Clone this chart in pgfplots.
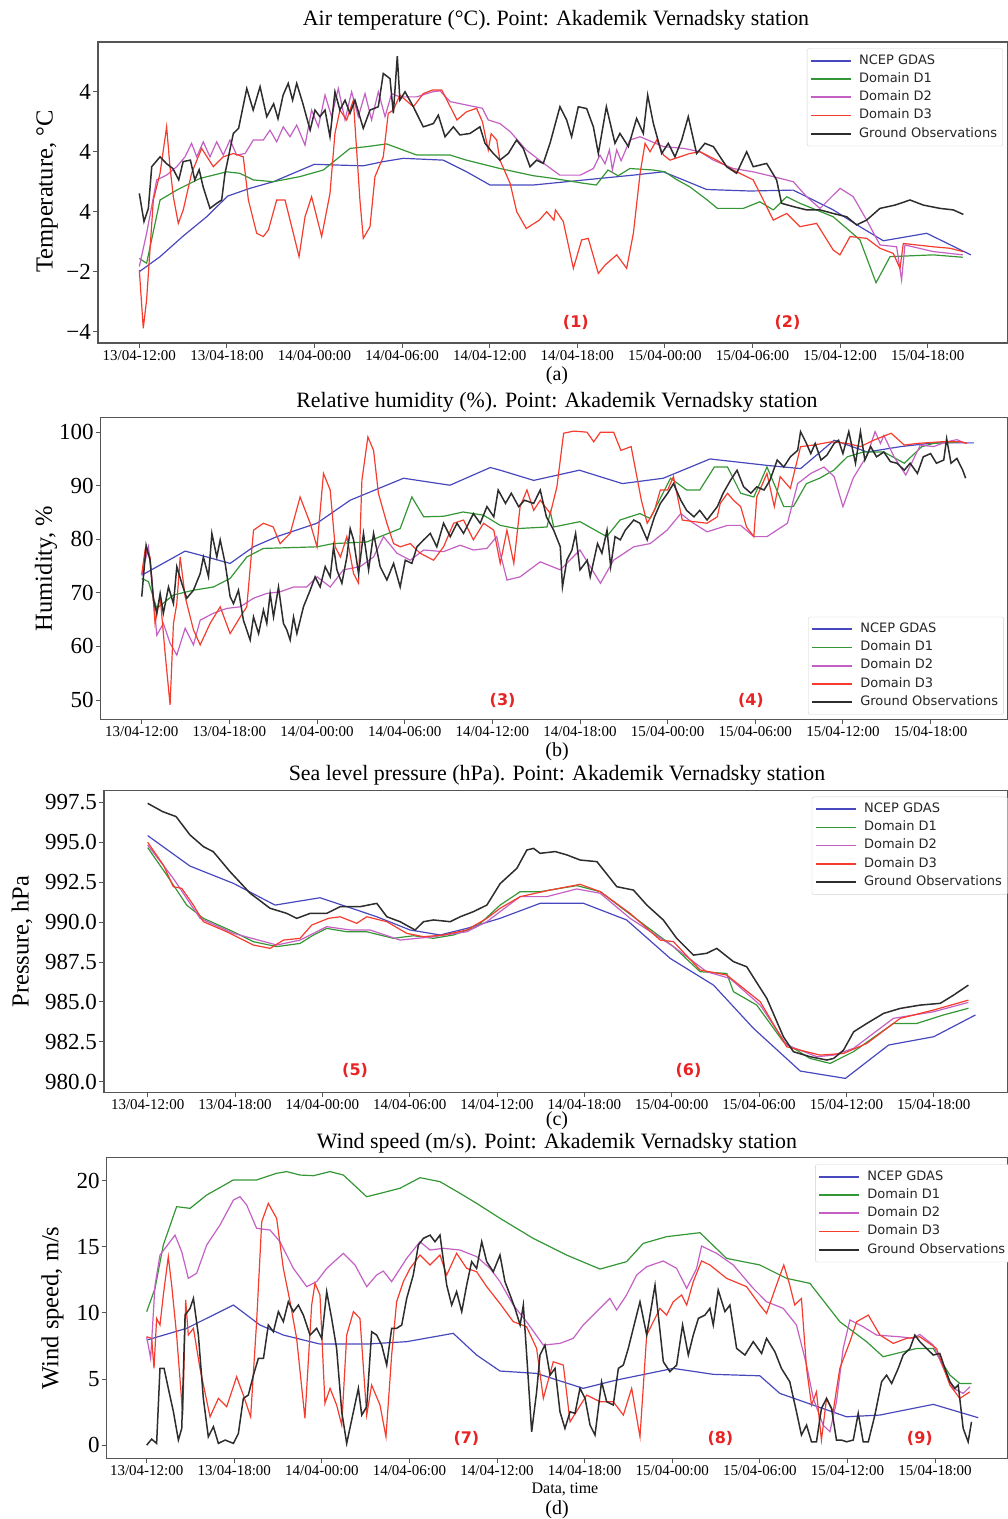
\documentclass[border=0pt]{standalone}
\usepackage{fontspec}
\setmainfont{Liberation Serif}
\newfontfamily\legfont{DejaVu Sans}
\usepackage{pgfplots}
\pgfplotsset{compat=1.18}

\definecolor{cNCEP}{RGB}{72,72,190}
\definecolor{cDone}{RGB}{52,150,52}
\definecolor{cDtwo}{RGB}{196,96,196}
\definecolor{cDthree}{RGB}{245,60,45}
\definecolor{cObs}{RGB}{45,45,45}
\definecolor{cFrame}{RGB}{85,85,85}
\definecolor{cAnn}{RGB}{232,35,35}

\pgfplotsset{
  panel/.style={
    scale only axis,
    anchor=south west,
    axis line style={draw=cFrame, line width=1.3bp},
    tick style={draw=cFrame, line width=0.9bp},
    tick align=outside,
    tick pos=left,
    major tick length=5bp,
    xtick={0,6,...,54},
    xticklabels={13/04-12:00,13/04-18:00,14/04-00:00,14/04-06:00,14/04-12:00,14/04-18:00,15/04-00:00,15/04-06:00,15/04-12:00,15/04-18:00},
    x tick label style={font=\fontsize{15bp}{15bp}\selectfont, inner sep=2bp},
    y tick label style={font=\fontsize{23bp}{23bp}\selectfont, inner sep=2bp},
    legend cell align=left,
    legend image code/.code={\draw[##1, line width=1.6bp] (0bp,0bp) -- (40bp,0bp); \path (45bp,0bp);},
    legend style={font=\legfont\fontsize{13bp}{13bp}\selectfont,
      text=black!85,
      draw=black!18, fill=white, rounded corners=2bp,
      inner xsep=3bp, inner ysep=3.5bp, row sep=0.75bp,
      nodes={inner sep=2.5bp, text height=9.5bp, text depth=3bp},
      anchor=north west},
  },
  ncep/.style={cNCEP, line width=1.2bp},
  done/.style={cDone, line width=1.2bp},
  dtwo/.style={cDtwo, line width=1.2bp},
  dthree/.style={cDthree, line width=1.2bp},
  obs/.style={cObs, line width=1.5bp},
}
\tikzset{
  ttl/.style={font=\fontsize{21.9bp}{21.9bp}\selectfont, inner sep=0pt},
  ylab/.style={font=\fontsize{24.5bp}{24.5bp}\selectfont, rotate=90, inner sep=0pt},
  sub/.style={font=\fontsize{20bp}{20bp}\selectfont, inner sep=0pt},
  ann/.style={font=\legfont\bfseries\fontsize{16bp}{16bp}\selectfont, text=cAnn, inner sep=0pt},
}

\begin{document}
\begin{tikzpicture}
\useasboundingbox (0bp,0bp) rectangle (1008bp,-1519bp);

% ---------------- (a) air temperature ----------------
\node[ttl] at (556bp,-20bp) {Air temperature (°C). Point: Akademik Vernadsky station};
\node[ylab] at (47bp,-191.5bp) {Temperature, °C};
\begin{axis}[panel, at={(98bp,-343bp)}, width=910bp, height=301bp,
  xmin=-2.83, xmax=59.5, ymin=-4.38, ymax=5.66,
  ytick={-4,-2,0,2,4}, yticklabels={−4,−2,4,4,4},
  legend style={at={(0.779,0.979)}}]
\addplot[ncep] coordinates {(0,-2.0)(1.42,-1.5)(3.01,-0.81)(4.61,-0.17)(6.05,0.52)(7.58,0.78)(9.18,1.0)(10.78,1.33)(11.99,1.58)(13.29,1.56)(15.34,1.53)(16.71,1.67)(18.08,1.78)(20.82,1.72)(22.42,1.33)(24.02,0.89)(26.99,0.89)(29.27,1.0)(31.55,1.11)(33.84,1.22)(35.89,1.33)(37.26,1.06)(38.86,0.74)(41.83,0.69)(44.79,0.72)(47.53,0.06)(49.36,-0.5)(50.96,-0.97)(53.93,-0.72)(56.95,-1.44)};
\addlegendentry{NCEP GDAS}
\addplot[done] coordinates {(0,-1.56)(0.5,-1.72)(1.42,0.39)(2.56,0.72)(4.16,1.11)(5.98,1.33)(6.89,1.28)(7.81,1.06)(9.18,1.0)(11.0,1.17)(12.6,1.39)(14.43,2.11)(15.57,2.17)(16.94,2.26)(19.0,1.89)(21.28,1.89)(22.4,1.72)(24.7,1.44)(26.99,1.2)(28.36,1.11)(30.4,0.95)(31.3,0.89)(32.1,1.39)(32.8,1.2)(33.6,1.44)(35.2,1.39)(36.0,1.33)(36.7,1.1)(37.7,0.83)(38.9,0.39)(39.6,0.11)(41.37,0.11)(42.5,0.33)(43.42,0.06)(44.34,0.5)(45.25,0.28)(47.53,-0.17)(49.36,-0.94)(50.46,-2.37)(51.42,-1.5)(54.38,-1.44)(56.4,-1.52)};
\addlegendentry{Domain D1}
\addplot[dtwo] coordinates {(0,-1.83)(0.5,-0.72)(1.19,1.06)(1.87,1.22)(2.56,1.5)(3.13,1.83)(3.58,2.28)(3.93,1.83)(4.38,2.33)(4.84,1.83)(5.3,2.33)(5.75,1.89)(6.21,2.39)(6.67,1.89)(7.24,1.94)(7.81,2.39)(8.49,2.39)(8.95,2.72)(9.41,2.33)(9.86,2.83)(10.32,2.5)(10.78,2.89)(11.35,2.22)(11.8,3.39)(12.26,2.83)(12.72,3.89)(13.17,3.17)(13.63,4.11)(14.09,3.06)(14.54,4.0)(15.0,3.17)(15.46,3.94)(15.91,3.06)(16.37,4.0)(16.83,3.17)(17.28,3.94)(17.85,3.83)(19.0,3.83)(20.1,4.0)(20.6,4.03)(21.3,3.67)(23.5,3.45)(23.9,3.06)(24.7,2.94)(25.4,2.67)(26.5,2.06)(27.7,1.61)(28.8,1.22)(30.2,1.22)(31.1,1.44)(31.55,1.89)(31.9,1.6)(32.2,2.06)(32.4,1.39)(32.7,2.06)(33.0,1.7)(33.6,2.39)(34.3,2.5)(35.9,2.17)(37.3,2.11)(38.4,2.0)(39.32,1.72)(40.68,1.44)(42.05,1.33)(43.42,1.17)(44.79,1.0)(45.71,0.5)(46.62,0.11)(48.0,0.78)(48.9,0.5)(49.82,-0.28)(50.73,-1.11)(51.87,-1.17)(52.21,-2.28)(52.44,-1.11)(54.38,-1.33)(56.4,-1.44)};
\addlegendentry{Domain D2}
\addplot[dthree] coordinates {(0,-1.94)(0.27,-3.89)(0.5,-2.94)(0.96,0.39)(1.42,1.28)(1.87,2.83)(2.1,1.5)(2.33,0.5)(2.67,-0.39)(3.01,0.06)(3.58,1.28)(4.27,2.11)(5.07,1.5)(5.75,1.83)(6.44,1.94)(7.12,1.83)(7.47,0.39)(8.04,-0.72)(8.49,-0.83)(8.84,-0.61)(9.41,0.39)(9.98,0.39)(10.55,-0.72)(10.94,-1.5)(11.35,-0.17)(11.8,0.5)(12.49,-0.83)(13.06,0.61)(13.4,2.61)(13.74,3.39)(14.2,3.06)(14.66,3.72)(15.11,0.39)(15.34,-0.89)(15.8,-0.5)(16.14,1.17)(16.71,1.83)(17.05,3.28)(17.4,3.39)(17.85,3.89)(18.77,3.5)(19.45,3.94)(20.1,4.06)(20.71,4.06)(21.3,3.5)(21.76,3.06)(22.4,3.33)(23.1,3.45)(23.5,3.0)(23.9,2.06)(24.1,2.6)(24.48,2.39)(24.7,1.72)(25.4,0.94)(25.85,0)(26.5,-0.56)(27.4,-0.28)(27.9,0)(28.4,-0.28)(28.5,0.06)(29.04,-0.33)(29.73,-1.89)(30.3,-0.94)(30.75,-0.89)(31.44,-2.06)(31.9,-1.78)(32.7,-1.44)(33.38,-1.89)(33.84,-0.72)(34.3,1.28)(34.64,2.28)(34.98,2.0)(35.44,2.39)(35.9,1.89)(36.35,1.72)(37.7,1.94)(38.4,2.0)(39.54,1.72)(40.68,1.39)(42.05,1.06)(42.74,0.39)(43.42,-0.28)(44.34,-0.06)(45.25,-0.5)(46.39,-0.39)(47.53,-1.28)(47.99,-1.44)(48.68,-0.83)(49.82,-0.89)(50.73,-1.22)(51.64,-1.39)(52.1,-1.89)(52.33,-1.06)(54.38,-1.17)(55.53,-1.22)(56.4,-1.33)};
\addlegendentry{Domain D3}
\addplot[obs] coordinates {(0,0.61)(0.32,-0.33)(0.62,0.11)(0.85,1.5)(1.42,1.83)(1.87,1.6)(2.3,1.44)(2.7,1.06)(3.0,1.67)(3.5,1.72)(3.8,1.06)(4.1,1.4)(4.37,0.83)(4.84,0.11)(5.3,0.28)(5.64,0.39)(5.87,1.28)(6.44,2.61)(6.8,2.78)(7.36,4.11)(7.8,3.39)(8.27,4.17)(8.73,3.17)(9.2,3.6)(9.5,3.1)(9.85,3.89)(10.2,4.28)(10.5,3.72)(10.78,4.28)(11.2,3.61)(11.7,2.72)(12.03,3.39)(12.37,3.17)(12.72,3.39)(13.06,2.5)(13.4,4.0)(13.74,3.39)(14.09,3.72)(14.43,3.28)(14.77,3.72)(15.34,2.78)(15.8,3.39)(16.37,3.5)(16.71,4.61)(17.17,4.44)(17.4,3.28)(17.67,5.19)(17.85,3.72)(18.2,4.0)(18.77,3.5)(19.45,2.83)(20.14,2.94)(20.48,3.22)(20.94,2.5)(21.51,2.83)(21.96,2.56)(22.65,2.61)(23.33,2.83)(23.68,2.28)(24.25,1.94)(24.7,1.72)(25.27,1.94)(25.84,2.39)(26.3,2.11)(26.76,1.5)(27.21,1.72)(27.67,1.61)(28.13,2.28)(28.81,3.5)(29.27,3.06)(29.61,2.5)(30.07,3.5)(30.64,3.44)(31.1,2.83)(31.44,1.94)(31.99,3.5)(32.58,2.28)(32.92,2.61)(33.5,2.17)(34.06,3.11)(34.52,2.61)(34.82,3.89)(35.21,2.94)(35.78,1.94)(36.23,2.28)(36.69,1.83)(37.15,2.39)(37.6,3.17)(38.17,1.94)(38.74,2.28)(39.32,2.17)(40.23,1.5)(40.91,1.28)(41.6,2.0)(42.05,1.5)(42.97,1.61)(43.65,1.06)(43.99,0.28)(44.79,0.17)(45.71,0.06)(46.62,0.06)(47.53,-0.06)(48.45,-0.17)(49.13,-0.44)(49.82,-0.28)(50.73,0.11)(51.76,0.22)(52.79,0.39)(53.7,0.22)(54.84,0.11)(55.75,0.06)(56.44,-0.09)};
\addlegendentry{Ground Observations}
\node[ann] at (axis cs:29.9,-3.68) {(1)};
\node[ann] at (axis cs:44.4,-3.68) {(2)};
\end{axis}
\node[sub] at (557bp,-376bp) {(a)};

% ---------------- (b) relative humidity ----------------
\node[ttl] at (557bp,-402bp) {Relative humidity (\%). Point: Akademik Vernadsky station};
\node[ylab] at (46bp,-568.5bp) {Humidity, \%};
\begin{axis}[panel, at={(100.7bp,-719.3bp)}, width=907.3bp, height=301.6bp,
  xmin=-2.81, xmax=59.3, ymin=46.4, ymax=102.7,
  ytick={50,60,70,80,90,100}, yticklabels={50,60,70,80,90,100},
  legend style={at={(0.7796,0.340)}}]
\addplot[ncep] coordinates {(0,73.3)(2.97,77.8)(4.0,77.05)(6.05,75.5)(7.65,78.6)(9.25,80.5)(11.99,83.0)(14.27,87.3)(17.92,91.4)(21.1,90.1)(23.86,93.4)(24.54,92.9)(26.83,91.0)(29.96,92.9)(32.9,90.4)(35.7,91.4)(38.9,95.0)(42.8,93.8)(45.1,93.2)(47.4,98.5)(49.66,96.3)(51.94,97.3)(54.2,98.0)(56.96,98.0)};
\addlegendentry{NCEP GDAS}
\addplot[done] coordinates {(0,72.7)(0.46,72.1)(1.03,67.1)(2.17,69.6)(3.54,70.5)(4.91,71.1)(6.05,72.7)(7.19,76.7)(8.33,78.3)(10.84,78.5)(12.0,78.6)(13.1,79.2)(15.4,79.5)(17.69,82.0)(18.49,87.9)(19.3,84.2)(20.66,84.3)(22.0,85.1)(23.4,84.5)(24.54,82.6)(25.68,82.0)(27.74,82.3)(27.97,85.1)(28.2,82.3)(30.0,83.3)(31.83,80.5)(32.74,83.6)(34.1,84.8)(34.8,83.9)(36.2,91.4)(37.3,89.2)(38.2,89.2)(39.2,93.5)(40.1,93.5)(41.0,88.6)(41.9,87.9)(42.8,93.5)(43.95,86.1)(44.6,86.1)(45.5,90.4)(46.4,91.4)(47.37,92.9)(48.3,95.4)(49.4,96.3)(50.8,96.3)(52.2,94.2)(53.4,97.3)(54.2,97.9)(56.0,98.2)};
\addlegendentry{Domain D1}
\addplot[dtwo] coordinates {(0,73.3)(0.46,78.6)(0.68,73.0)(1.03,62.1)(1.48,64.3)(1.94,60.6)(2.4,58.4)(2.97,63.4)(3.54,60.3)(4.0,64.9)(4.9,66.2)(5.82,67.1)(6.74,67.4)(7.65,69.0)(8.56,69.9)(9.47,70.2)(10.4,71.1)(11.3,71.1)(12.0,73.0)(12.9,71.1)(13.8,74.3)(14.95,74.9)(15.87,76.7)(16.55,80.5)(17.47,77.4)(18.38,76.1)(19.3,78.0)(20.66,77.7)(21.8,78.9)(22.7,78.0)(23.63,78.3)(24.3,80.5)(24.54,77.4)(25.0,72.4)(25.9,73.0)(27.28,75.8)(28.65,74.3)(30.0,78.0)(31.4,71.8)(32.3,76.1)(33.68,78.6)(34.8,79.2)(35.96,81.7)(36.9,84.8)(37.6,83.3)(38.7,81.4)(40.1,82.6)(41.0,82.6)(41.9,80.5)(42.8,80.5)(44.2,83.0)(44.9,90.4)(45.8,92.3)(46.7,93.5)(47.4,91.7)(48.0,86.1)(48.7,91.4)(49.66,95.7)(50.2,100.1)(50.57,97.9)(50.8,99.4)(51.5,95.4)(52.3,92.0)(53.3,97.6)(54.2,97.3)(55.1,98.2)(55.8,98.6)(56.4,97.9)};
\addlegendentry{Domain D2}
\addplot[dthree] coordinates {(0,73.6)(0.23,78.0)(0.57,76.7)(0.91,64.3)(1.26,69.3)(1.6,58.7)(1.94,49.1)(2.17,64.3)(2.4,68.0)(2.63,76.7)(2.97,69.3)(3.54,63.1)(4.0,60.3)(4.68,64.3)(5.37,67.4)(6.05,62.4)(6.74,65.5)(7.19,67.4)(7.65,81.7)(8.33,83.0)(9.0,82.3)(9.47,79.2)(10.16,81.1)(10.84,87.9)(11.53,83.0)(12.0,78.6)(12.44,92.3)(12.9,89.2)(13.24,78.6)(13.6,76.7)(14.04,80.5)(14.5,73.6)(14.84,71.8)(15.07,91.0)(15.48,99.1)(15.87,96.6)(16.2,88.6)(16.78,83.0)(17.24,79.2)(17.69,78.6)(18.38,79.2)(19.06,77.4)(19.98,76.1)(20.66,78.6)(21.35,83.0)(22.03,83.6)(22.7,79.9)(23.4,83.0)(24.1,81.7)(24.54,75.5)(25.0,81.7)(25.47,75.5)(25.9,86.1)(26.37,89.2)(26.83,85.4)(27.28,87.3)(27.97,84.8)(28.42,89.8)(28.88,99.8)(29.57,100.2)(30.48,100.0)(30.94,98.2)(31.4,100.0)(32.3,100.0)(32.8,96.6)(33.5,97.3)(34.2,87.3)(34.6,83.0)(35.1,85.4)(35.5,89.2)(36.0,89.2)(36.4,91.7)(37.0,83.6)(37.8,83.3)(38.7,83.0)(39.4,84.2)(39.6,86.7)(40.1,88.6)(40.5,87.3)(41.0,86.1)(41.4,82.3)(41.9,80.5)(42.1,87.9)(42.8,92.3)(43.3,86.1)(43.7,91.7)(44.4,89.5)(45.1,97.3)(46.0,97.6)(47.2,98.2)(48.3,97.9)(49.2,97.3)(50.1,98.5)(51.3,99.8)(52.2,97.6)(53.1,97.9)(54.7,98.2)(56.1,98.2)(56.5,97.9)};
\addlegendentry{Domain D3}
\addplot[obs] coordinates {(0,69.3)(0.3,78.9)(0.57,76.1)(0.8,68.7)(1.03,66.2)(1.26,69.9)(1.48,66.2)(1.83,71.1)(2.17,68.0)(2.4,74.9)(2.74,71.8)(3.08,69.0)(3.54,70.5)(4.0,73.6)(4.22,76.7)(4.57,73.0)(4.8,81.1)(5.14,76.7)(5.37,79.9)(5.71,75.5)(6.05,69.3)(6.28,68.0)(6.62,70.5)(6.96,64.9)(7.42,61.2)(7.65,65.5)(8.0,62.4)(8.33,66.8)(8.56,64.3)(8.79,69.9)(9.02,65.5)(9.36,71.1)(9.7,64.3)(9.93,63.1)(10.16,61.2)(10.39,65.5)(10.62,62.4)(11.07,67.4)(11.53,70.5)(11.87,73.0)(12.21,71.1)(12.56,74.9)(12.9,73.0)(13.13,78.6)(13.36,74.3)(13.7,71.8)(14.04,76.7)(14.27,82.0)(14.5,79.9)(14.84,73.6)(15.18,81.1)(15.53,74.3)(15.87,81.1)(16.32,74.9)(16.78,72.4)(17.24,75.5)(17.69,71.1)(18.04,76.1)(18.49,75.5)(18.84,78.6)(19.3,79.9)(19.75,81.1)(20.2,78.6)(20.66,83.0)(21.12,80.5)(21.58,83.0)(22.03,81.1)(22.7,84.8)(23.17,83.0)(23.63,86.1)(24.1,84.2)(24.4,89.2)(24.9,86.7)(25.3,88.6)(25.8,86.1)(26.2,87.3)(26.83,86.7)(27.28,89.2)(27.7,84.2)(28.2,81.7)(28.65,78.6)(28.8,71.1)(29.1,76.1)(29.45,78.0)(29.7,81.1)(30.0,74.3)(30.5,76.1)(30.7,73.0)(31.2,79.2)(31.5,77.4)(31.85,81.7)(32.1,74.9)(32.4,80.5)(32.76,79.9)(33.1,81.7)(33.68,83.6)(34.1,83.0)(34.6,79.9)(35.1,84.2)(35.5,86.7)(36.0,88.6)(36.4,90.4)(36.9,87.3)(37.3,85.4)(37.8,84.2)(38.2,85.4)(38.7,83.6)(39.4,86.1)(39.8,88.6)(40.3,91.0)(40.75,92.9)(41.2,89.8)(41.7,88.6)(42.1,89.8)(42.6,89.2)(43.0,91.0)(43.5,94.8)(43.95,93.5)(44.4,95.4)(44.9,96.6)(45.1,100.1)(45.5,97.9)(45.8,96.0)(46.1,97.9)(46.5,94.8)(46.9,95.7)(47.4,97.9)(47.7,98.5)(48.0,96.0)(48.4,100.1)(48.86,94.2)(49.2,100.1)(49.5,94.8)(49.9,97.3)(50.3,95.4)(50.8,96.3)(51.25,94.5)(51.7,94.2)(52.2,92.9)(52.6,94.2)(53.1,92.3)(53.5,95.4)(54.0,96.0)(54.4,94.2)(54.9,94.8)(55.1,98.8)(55.4,94.2)(55.8,95.1)(56.2,92.9)(56.4,91.4)};
\addlegendentry{Ground Observations}
\node[ann] at (axis cs:24.7,50.0) {(3)};
\node[ann] at (axis cs:41.7,50.0) {(4)};
\end{axis}
\node[sub] at (557bp,-752bp) {(b)};

% ---------------- (c) sea level pressure ----------------
\node[ttl] at (557bp,-775bp) {Sea level pressure (hPa). Point: Akademik Vernadsky station};
\node[ylab] at (22bp,-941.5bp) {Pressure, hPa};
\begin{axis}[panel, at={(104bp,-1092.3bp)}, width=904bp, height=301.6bp,
  xmin=-3.0, xmax=59.1, ymin=979.34, ymax=998.22,
  ytick={980,982.5,985,987.5,990,992.5,995,997.5},
  yticklabels={980.0,982.5,985.0,987.5,990.0,992.5,995.0,997.5},
  legend style={at={(0.783,0.980)}}]
\addplot[ncep] coordinates {(0,995.41)(2.91,993.5)(5.89,992.42)(8.75,991.06)(11.84,991.52)(13.68,990.96)(15.74,990.33)(18.03,989.5)(20.09,989.19)(21.92,989.6)(24.21,990.23)(26.96,991.17)(29.94,991.17)(32.9,990.13)(35.9,987.72)(38.87,986.05)(41.62,983.34)(44.83,980.67)(47.93,980.21)(50.9,982.3)(54.0,982.82)(56.86,984.18)};
\addlegendentry{NCEP GDAS}
\addplot[done] coordinates {(0,994.66)(1.31,992.94)(2.68,991.06)(3.83,990.23)(5.89,989.39)(7.26,988.77)(8.87,988.46)(10.47,988.66)(11.39,989.19)(12.3,989.6)(13.68,989.39)(15.05,989.39)(16.88,988.98)(18.26,989.14)(19.63,988.98)(21.01,989.19)(22.61,989.71)(24.21,991.06)(25.59,991.9)(26.96,991.9)(29.48,992.28)(31.09,991.9)(32.9,990.65)(34.75,989.39)(36.12,988.46)(37.95,986.89)(39.78,986.78)(40.24,985.64)(41.84,984.8)(43.67,982.5)(45.5,981.46)(46.88,981.15)(48.48,981.88)(51.23,983.65)(52.83,983.65)(54.66,984.18)(56.38,984.6)};
\addlegendentry{Domain D1}
\addplot[dtwo] coordinates {(0,994.82)(1.76,992.73)(3.6,990.23)(5.89,989.29)(8.87,988.56)(10.47,988.87)(12.3,989.71)(13.91,989.5)(15.28,989.5)(17.34,988.87)(19.63,989.08)(21.92,989.39)(23.3,990.02)(24.21,990.65)(25.59,991.59)(27.42,991.59)(29.48,992.07)(31.09,991.8)(33.14,990.23)(36.12,988.46)(38.4,986.89)(40.0,986.47)(42.08,984.8)(43.9,982.3)(45.98,981.57)(47.12,981.67)(48.48,982.09)(51.23,983.97)(53.98,984.38)(56.38,984.97)};
\addlegendentry{Domain D2}
\addplot[dthree] coordinates {(0,994.99)(1.08,993.57)(1.76,992.21)(2.34,992.11)(3.14,991.06)(3.83,990.02)(5.43,989.39)(7.26,988.56)(8.41,988.35)(9.33,988.87)(10.47,988.98)(11.27,989.81)(12.42,990.23)(13.22,990.33)(14.36,989.92)(15.05,990.33)(16.43,990.02)(17.8,989.29)(18.95,989.08)(20.32,989.19)(21.92,989.5)(23.3,990.23)(24.21,990.86)(25.59,991.59)(27.65,992.0)(29.71,992.36)(31.09,991.9)(33.14,990.54)(35.21,988.87)(36.12,988.77)(37.95,987.0)(39.78,986.68)(42.08,985.01)(43.9,982.19)(46.19,981.67)(47.79,981.77)(49.4,982.4)(51.69,983.97)(53.98,984.49)(56.38,985.11)};
\addlegendentry{Domain D3}
\addplot[obs] coordinates {(0,997.43)(1.03,996.91)(1.95,996.6)(2.91,995.45)(3.83,994.72)(4.51,994.4)(5.66,993.15)(7.04,991.8)(8.41,990.86)(9.56,990.54)(10.24,990.23)(11.16,990.54)(12.3,990.54)(13.22,990.96)(14.59,990.96)(15.74,991.17)(16.43,990.33)(17.34,990.02)(18.37,989.5)(18.95,990.02)(19.63,990.13)(20.78,990.02)(21.47,990.33)(22.38,990.65)(23.3,991.06)(24.21,992.4)(25.36,993.36)(26.05,994.51)(26.51,994.61)(26.96,994.3)(28.0,994.41)(28.8,994.2)(29.71,993.88)(30.86,993.78)(32.23,992.21)(33.37,992.0)(34.29,991.06)(35.42,990.13)(36.34,988.98)(37.49,987.93)(38.4,988.04)(39.09,988.35)(40.24,987.52)(41.15,987.2)(42.53,985.22)(43.67,982.82)(44.36,981.88)(45.5,981.57)(46.66,981.36)(47.12,981.46)(47.8,981.98)(48.5,983.13)(49.4,983.65)(50.55,984.28)(51.69,984.59)(53.07,984.8)(54.45,984.91)(55.37,985.43)(56.38,986.05)};
\addlegendentry{Ground Observations}
\node[ann] at (axis cs:14.25,980.73) {(5)};
\node[ann] at (axis cs:37.15,980.73) {(6)};
\end{axis}
\node[sub] at (557bp,-1121bp) {(c)};

% ---------------- (d) wind speed ----------------
\node[ttl] at (557bp,-1143bp) {Wind speed (m/s). Point: Akademik Vernadsky station};
\node[ylab] at (52.5bp,-1308bp) {Wind speed, m/s};
\begin{axis}[panel, at={(106.7bp,-1458.3bp)}, width=901.3bp, height=300.6bp,
  xmin=-2.74, xmax=59.0, ymin=-1.0, ymax=21.73,
  ytick={0,5,10,15,20}, yticklabels={0,5,10,15,20},
  legend style={at={(0.786,0.978)}}]
\addplot[ncep] coordinates {(0,7.94)(2.74,8.83)(5.94,10.59)(7.76,9.08)(9.36,8.32)(11.87,7.64)(15.07,7.64)(17.81,7.82)(21.0,8.45)(22.6,6.81)(24.2,5.6)(26.71,5.42)(29.9,4.29)(32.19,4.92)(36.07,5.8)(38.81,5.35)(42.0,5.24)(43.37,3.91)(47.94,2.14)(50.22,2.27)(53.88,3.08)(56.96,2.07)};
\addlegendentry{NCEP GDAS}
\addplot[done] coordinates {(0,10.09)(0.57,11.85)(1.14,15.13)(2.05,18.03)(2.97,17.9)(4.11,18.91)(5.94,20.05)(7.53,20.05)(8.9,20.55)(9.59,20.68)(10.5,20.42)(11.42,20.37)(12.56,20.68)(13.47,20.42)(15.07,18.78)(16.44,19.16)(17.35,19.42)(18.72,20.22)(20.09,19.92)(21.46,19.04)(22.6,18.28)(24.2,17.15)(26.48,15.63)(28.76,14.37)(31.05,13.31)(32.87,13.87)(34.01,15.25)(35.61,15.76)(37.9,16.06)(39.72,14.12)(42.0,13.62)(43.83,12.61)(45.43,12.23)(47.48,9.33)(49.31,7.82)(50.45,6.68)(52.74,7.31)(53.88,7.31)(55.02,5.29)(55.7,4.66)(56.5,4.66)};
\addlegendentry{Domain D1}
\addplot[dtwo] coordinates {(0,8.19)(0.27,6.56)(0.57,12.1)(0.91,14.37)(1.6,15.38)(1.94,15.88)(2.4,14.62)(2.85,12.61)(3.42,12.99)(4.11,15.13)(5.02,16.64)(5.94,18.53)(6.39,18.78)(6.85,18.15)(7.53,16.39)(8.45,16.26)(9.13,15.38)(10.05,13.36)(10.96,11.98)(11.64,12.36)(12.33,13.36)(13.47,14.5)(14.27,13.62)(15.07,11.98)(15.75,12.86)(16.21,13.16)(16.78,12.36)(17.81,14.12)(18.72,15.38)(19.41,14.75)(20.32,14.88)(21.46,14.75)(22.6,14.25)(23.52,13.36)(24.2,12.36)(25.11,10.59)(26.02,9.33)(27.17,7.56)(28.31,7.69)(29.22,8.07)(29.9,9.08)(31.05,10.34)(31.73,11.09)(32.19,10.21)(32.87,11.35)(33.56,12.86)(34.25,13.49)(35.39,13.92)(36.3,13.36)(36.99,11.85)(37.67,13.36)(38.01,15.05)(39.04,14.5)(40.18,13.62)(41.55,11.85)(42.46,10.84)(43.6,10.34)(44.51,9.08)(45.2,6.05)(45.66,3.53)(46.34,1.51)(46.8,1.01)(47.25,3.28)(47.71,7.31)(48.17,9.46)(49.08,8.95)(49.99,8.32)(51.59,8.19)(52.51,8.07)(52.96,8.37)(53.88,7.56)(54.79,5.29)(55.25,4.29)(55.93,3.91)(56.39,4.41)};
\addlegendentry{Domain D2}
\addplot[dthree] coordinates {(0,8.19)(0.34,8.07)(0.5,5.8)(0.68,9.58)(0.91,9.08)(1.14,11.35)(1.48,14.25)(1.71,12.1)(2.05,8.32)(2.47,2.27)(2.67,10.97)(2.85,8.32)(3.2,8.83)(3.65,5.8)(4.34,2.14)(4.91,3.53)(5.48,2.9)(6.16,5.17)(6.62,3.78)(7.12,2.14)(7.53,9.33)(7.88,16.89)(8.33,18.28)(8.9,17.15)(9.36,13.36)(9.82,10.84)(10.27,8.07)(10.84,2.02)(11.3,10.59)(11.53,12.23)(11.87,11.35)(12.21,3.15)(12.56,4.29)(13.01,3.03)(13.36,1.51)(13.7,8.32)(14.16,10.09)(14.61,9.58)(15.07,2.27)(15.41,4.54)(15.98,3.03)(16.39,0.63)(16.78,6.81)(17.12,10.84)(17.58,12.36)(18.04,13.36)(18.72,14.37)(19.41,13.62)(20.09,14.37)(20.55,12.86)(21.23,14.5)(21.92,13.36)(22.6,13.11)(23.29,11.98)(24.2,10.7)(25.11,9.33)(26.02,8.95)(26.71,7.31)(27.17,3.53)(27.85,6.3)(28.54,6.05)(29.0,1.76)(30.14,3.78)(31.05,3.28)(31.96,3.28)(32.65,2.27)(33.22,4.29)(33.79,0.63)(34.25,8.32)(35.16,10.34)(35.61,9.83)(36.07,10.84)(36.64,11.35)(36.99,10.59)(37.44,12.36)(38.01,13.92)(38.58,13.62)(39.72,12.61)(41.09,11.98)(42.0,10.59)(42.46,9.96)(43.14,12.1)(43.64,13.62)(44.05,12.1)(44.39,10.59)(44.85,11.09)(45.2,5.8)(45.54,3.03)(45.88,4.03)(46.22,0.38)(46.57,3.53)(47.02,2.52)(47.48,5.8)(48.17,7.82)(48.63,9.33)(49.43,9.83)(50.23,8.32)(51.14,7.69)(52.05,8.07)(52.96,8.19)(54.1,7.31)(55.02,4.54)(55.7,3.53)(56.39,4.03)};
\addlegendentry{Domain D3}
\addplot[obs] coordinates {(0,0)(0.34,0.45)(0.68,0.13)(0.91,5.8)(1.19,5.8)(1.48,4.29)(1.83,2.52)(2.17,0.38)(2.4,1.26)(2.63,9.83)(2.97,10.34)(3.2,11.09)(3.54,8.32)(3.88,3.53)(4.22,0.63)(4.57,1.39)(4.91,0.13)(5.37,0.38)(5.94,0.13)(6.28,0.88)(6.62,3.53)(6.96,3.78)(7.31,5.29)(7.65,6.56)(8.0,6.56)(8.33,9.08)(8.68,8.57)(9.02,10.09)(9.36,9.33)(9.7,10.84)(10.05,10.09)(10.39,10.59)(10.73,9.83)(11.19,8.32)(11.64,8.83)(11.99,8.07)(12.33,11.6)(12.67,9.58)(13.01,7.31)(13.36,2.52)(13.7,0.13)(14.16,2.52)(14.5,4.29)(14.73,2.27)(15.07,2.9)(15.41,8.57)(15.75,8.32)(16.1,7.56)(16.44,6.05)(16.78,8.83)(17.12,8.83)(17.47,9.08)(17.81,11.09)(18.26,12.86)(18.61,15.13)(18.95,15.63)(19.41,15.88)(19.75,15.38)(20.09,15.88)(20.55,12.1)(20.89,10.59)(21.23,11.6)(21.58,10.09)(21.92,12.1)(22.26,13.87)(22.6,13.36)(22.95,15.38)(23.29,13.87)(23.74,13.11)(24.2,14.37)(24.54,12.36)(24.89,11.35)(25.23,10.34)(25.58,9.08)(25.8,10.59)(26.03,6.81)(26.37,1.01)(26.71,4.03)(26.94,6.81)(27.28,7.56)(27.63,5.29)(27.97,5.8)(28.31,2.52)(28.65,1.26)(29.0,2.52)(29.34,2.4)(29.68,4.29)(30.03,3.53)(30.37,1.51)(30.71,0.76)(31.16,4.79)(31.51,3.28)(31.96,3.03)(32.31,5.8)(32.65,6.05)(32.99,7.31)(33.33,8.83)(33.79,10.84)(34.25,8.32)(34.82,12.1)(35.39,6.3)(35.84,5.55)(36.3,6.05)(36.71,9.08)(37.1,6.81)(37.44,8.32)(37.79,9.58)(38.24,9.83)(38.58,10.34)(38.81,9.08)(39.15,11.72)(39.61,10.09)(39.95,10.59)(40.41,7.31)(40.98,6.81)(41.55,7.82)(42.12,6.93)(42.46,8.07)(43.03,7.06)(43.48,5.8)(44.05,4.79)(44.51,2.52)(44.85,0.76)(45.2,1.51)(45.54,0.25)(45.88,0.25)(46.22,2.77)(46.57,3.53)(46.91,2.77)(47.25,0.38)(47.59,0.38)(47.94,0.25)(48.4,0.38)(48.74,2.4)(49.08,0.25)(49.43,0.25)(49.88,2.27)(50.34,4.79)(50.68,5.29)(51.03,4.66)(51.48,5.8)(51.82,6.81)(52.28,7.31)(52.62,8.32)(52.96,7.82)(53.42,7.31)(53.88,6.81)(54.33,6.93)(54.68,5.8)(55.02,4.79)(55.36,4.29)(55.59,4.54)(55.93,1.26)(56.27,0.25)(56.5,1.76)};
\addlegendentry{Ground Observations}
\node[ann] at (axis cs:21.9,0.5) {(7)};
\node[ann] at (axis cs:39.3,0.5) {(8)};
\node[ann] at (axis cs:52.96,0.5) {(9)};
\end{axis}
\node[font=\fontsize{16bp}{16bp}\selectfont, inner sep=0pt] at (565bp,-1489bp) {Data, time};
\node[sub] at (557bp,-1510bp) {(d)};
\end{tikzpicture}
\end{document}
